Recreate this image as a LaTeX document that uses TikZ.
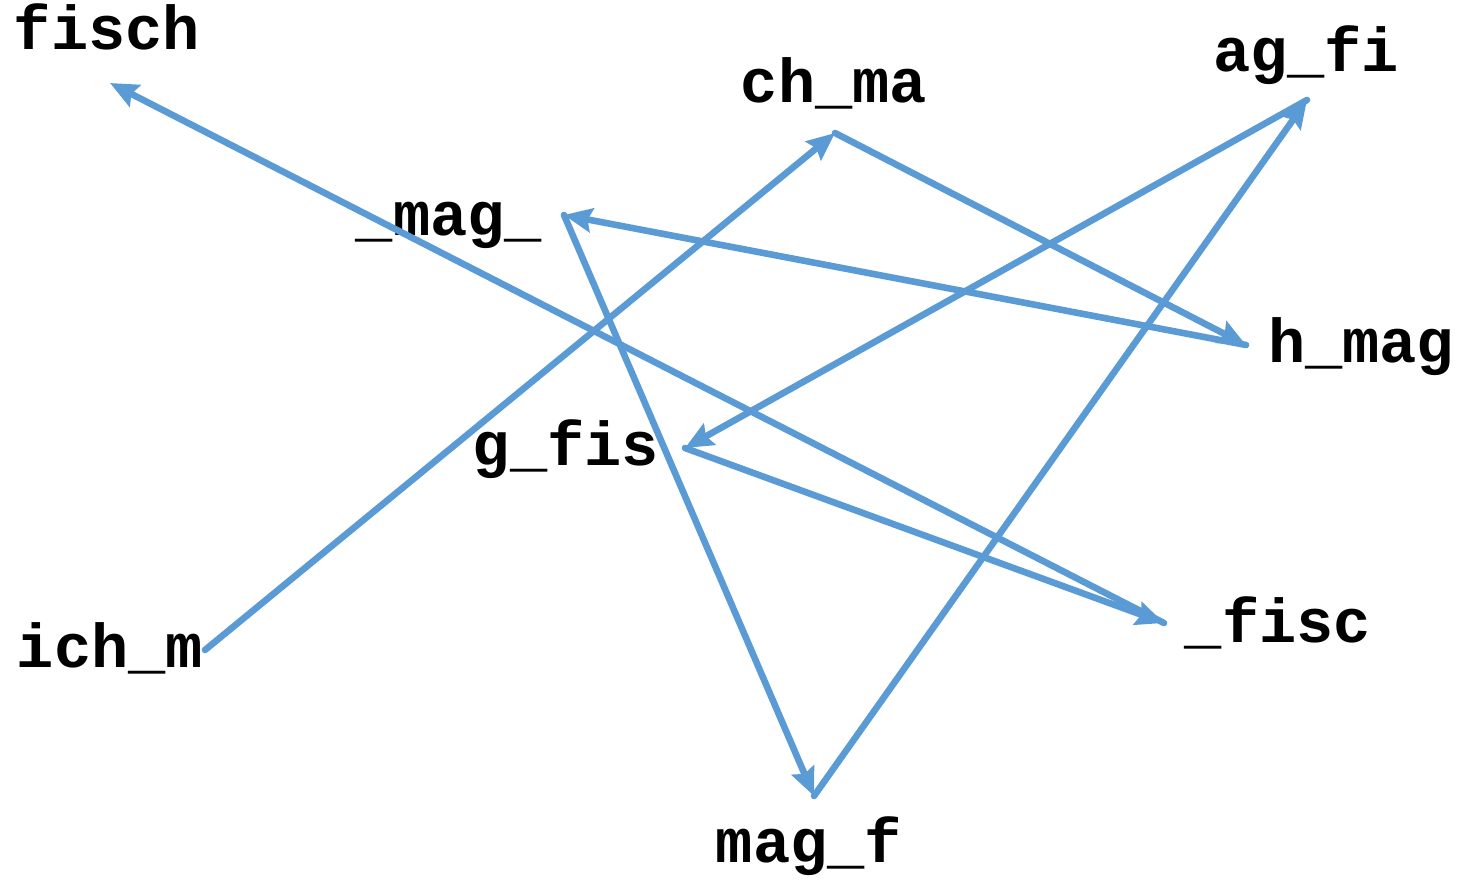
\documentclass[tikz,border=0pt]{standalone}
\usepackage{fontspec}
\setmonofont{Liberation Mono}
\usetikzlibrary{arrows.meta}

\definecolor{linkblue}{HTML}{5B9BD5}

\begin{document}
\begin{tikzpicture}[
    x=0.5pt, y=-0.5pt,
    word/.style={anchor=base, inner sep=0pt, font=\fontsize{31}{31}\selectfont\ttfamily\bfseries},
    link/.style={draw=linkblue, line width=3.3pt, line cap=round,
        -{Stealth[length=14pt, width=12pt, inset=2pt]}}
]
    \useasboundingbox (0,0) rectangle (1472,882);

    % Words
    \node [word] (fisch) at (107,50) {fisch};
    \node [word] (chma) at (834,103) {ch\_ma};
    \node [word] (agfi) at (1306,72) {ag\_fi};
    \node [word] (mag) at (449,235) {\_mag\_};
    \node [word] (hmag) at (1361,362) {h\_mag};
    \node [word] (gfis) at (566,465) {g\_fis};
    \node [word] (fisc) at (1278,642) {\_fisc};
    \node [word] (ichm) at (110,667) {ich\_m};
    \node [word] (magf) at (809,862) {mag\_f};

    % Where the links meet each word
    \coordinate (fisch-p) at (110,83);
    \coordinate (chma-p) at (835,133);
    \coordinate (agfi-p) at (1307,100);
    \coordinate (mag-p) at (564,215);
    \coordinate (hmag-p) at (1246,345);
    \coordinate (gfis-p) at (685,448);
    \coordinate (fisc-p) at (1164,623);
    \coordinate (ichm-p) at (205,650);
    \coordinate (magf-p) at (814,796);

    % Links
    \path [link] (ichm-p) -- (chma-p);
    \path [link] (chma-p) -- (hmag-p);
    \path [link] (hmag-p) -- (mag-p);
    \path [link] (mag-p) -- (magf-p);
    \path [link] (magf-p) -- (agfi-p);
    \path [link] (agfi-p) -- (gfis-p);
    \path [link] (gfis-p) -- (fisc-p);
    \path [link] (fisc-p) -- (fisch-p);

\end{tikzpicture}
\end{document}
